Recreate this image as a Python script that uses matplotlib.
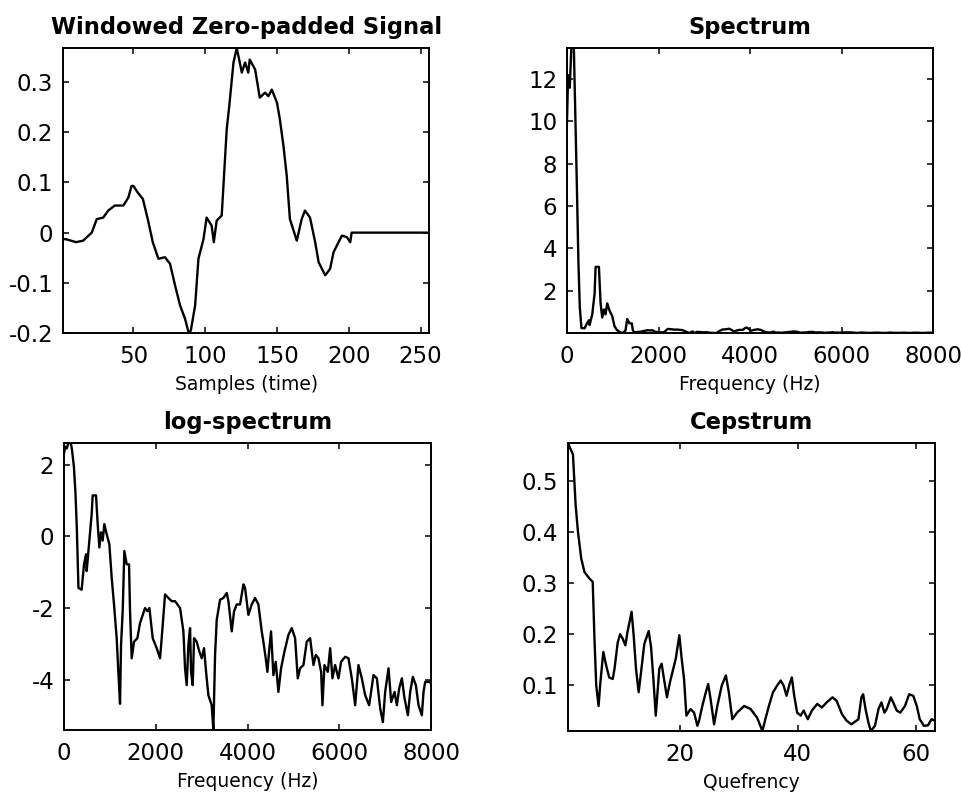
import numpy as np
import matplotlib.pyplot as plt

# ---- windowed, zero-padded frame (samples 1..256) ----
sig_n = [1, 3, 10, 15, 21, 24.5, 29, 32.5, 37, 43, 46.5, 48.7, 50, 53, 56.6,
         60, 63.5, 67.4, 72, 75.5, 79, 82.5, 86, 88.5, 90, 93, 95.3, 98.8, 101,
         104.5, 106, 108, 111.5, 112.7, 115, 117, 119.7, 122, 125.5, 127.8, 130,
         131, 134.8, 138, 141.7, 144, 146.4, 150, 152, 154.5, 156.8, 159, 163.8,
         167.2, 169.5, 173, 176.6, 179, 183.6, 187, 189.4, 192.9, 195.2, 198.7,
         201, 202, 256]
sig_v = [-0.013, -0.013, -0.019, -0.016, 0.0, 0.027, 0.030, 0.044, 0.054, 0.054,
         0.070, 0.093, 0.093, 0.080, 0.067, 0.027, -0.019, -0.052, -0.049, -0.062,
         -0.105, -0.145, -0.172, -0.200, -0.195, -0.145, -0.052, -0.013, 0.030,
         0.014, -0.019, 0.024, 0.034, 0.093, 0.206, 0.259, 0.339, 0.368, 0.319,
         0.339, 0.319, 0.345, 0.325, 0.269, 0.279, 0.272, 0.285, 0.259, 0.226,
         0.173, 0.113, 0.027, -0.016, 0.027, 0.044, 0.030, -0.019, -0.059, -0.085,
         -0.072, -0.039, -0.019, -0.006, -0.009, -0.019, 0.0, 0.0]

# ---- natural log magnitude spectrum, 0..8000 Hz ----
freq_hz = [0, 25, 60, 95, 150, 175, 215, 250, 280, 315, 385, 436, 480, 494, 552,
           603, 625, 698, 734, 770, 807, 843, 879, 930, 988, 1039, 1090, 1148,
           1184, 1221, 1243, 1279, 1315, 1366, 1417, 1439, 1475, 1526, 1599, 1657,
           1766, 1817, 1861, 1933, 2020, 2093, 2129, 2202, 2275, 2347, 2420, 2529,
           2602, 2638, 2674, 2711, 2747, 2769, 2805, 2834, 2892, 2951, 3001, 3052,
           3096, 3146, 3219, 3255, 3292, 3328, 3401, 3473, 3546, 3583, 3655, 3706,
           3764, 3837, 3910, 3946, 4018, 4091, 4164, 4236, 4309, 4345, 4396, 4432,
           4469, 4512, 4563, 4614, 4672, 4730, 4803, 4890, 4963, 5036, 5094, 5145,
           5218, 5290, 5363, 5436, 5487, 5545, 5603, 5632, 5676, 5749, 5800, 5850,
           5908, 5981, 6039, 6127, 6199, 6272, 6345, 6417, 6490, 6563, 6650, 6745,
           6818, 6890, 6949, 6999, 7072, 7130, 7203, 7254, 7305, 7363, 7421, 7494,
           7544, 7602, 7668, 7726, 7798, 7835, 7871, 7958, 8000]
log_spec = [2.30, 2.50, 2.45, 2.60, 2.60, 2.40, 1.95, 1.20, 0.20, -1.44, -1.49,
            -0.78, -0.50, -0.97, -0.12, 0.62, 1.14, 1.14, 0.34, -0.31, 0.11, -0.12,
            0.34, 0.06, -0.22, -1.15, -1.90, -2.84, -3.78, -4.67, -3.03, -2.09,
            -0.41, -0.78, -0.78, -2.09, -3.40, -2.94, -2.84, -2.42, -2.00, -2.09,
            -2.00, -2.84, -3.12, -3.40, -2.84, -1.62, -1.72, -1.81, -1.81, -2.00,
            -2.65, -3.68, -4.15, -3.03, -2.56, -3.78, -4.15, -2.84, -2.94, -3.22,
            -3.40, -3.12, -3.78, -4.43, -4.71, -5.40, -3.31, -2.33, -1.77, -1.72,
            -1.58, -1.81, -2.65, -2.09, -1.90, -1.90, -1.34, -1.44, -2.19, -1.90,
            -1.72, -1.90, -2.65, -2.94, -3.40, -3.78, -3.22, -2.65, -3.87, -3.50,
            -4.34, -3.68, -3.22, -2.75, -2.56, -2.84, -3.96, -3.68, -3.59, -2.94,
            -2.84, -3.59, -3.31, -3.40, -3.78, -4.71, -3.59, -3.78, -3.12, -3.96,
            -3.59, -3.96, -3.50, -3.36, -3.40, -3.96, -4.71, -3.59, -3.96, -4.43,
            -4.71, -3.87, -3.96, -4.80, -5.18, -4.34, -3.68, -4.62, -4.34, -4.71,
            -4.24, -3.96, -4.52, -4.99, -4.34, -3.92, -4.15, -4.71, -4.99, -4.34,
            -4.06, -4.06, -4.10]

# ---- real cepstrum, first 63 quefrency bins ----
quef = [1.0, 1.85, 2.3, 2.7, 3.25, 3.8, 4.66, 5.2, 5.5, 5.8, 6.2, 6.5, 7.0, 7.5,
        8.0, 8.6, 8.9, 9.45, 9.85, 10.3, 10.75, 11.1, 11.8, 12.15, 12.55, 13.0,
        13.4, 13.96, 14.7, 15.1, 15.5, 15.9, 16.5, 16.9, 17.3, 17.8, 18.3, 19.3,
        19.9, 20.3, 20.7, 21.1, 21.8, 22.4, 22.97, 23.25, 23.8, 24.4, 24.8, 25.2,
        25.8, 26.35, 27.1, 27.8, 28.3, 28.9, 29.7, 30.9, 32.0, 33.1, 34.0, 34.5,
        35.1, 35.8, 36.5, 37.1, 37.6, 38.1, 38.6, 39.0, 39.4, 39.9, 40.5, 41.0,
        41.7, 42.4, 43.3, 44.1, 44.9, 45.9, 46.6, 47.5, 48.3, 49.1, 50.3, 50.8,
        51.1, 51.5, 52.0, 52.4, 53.1, 53.7, 54.2, 54.7, 55.1, 55.8, 56.2, 56.8,
        57.4, 58.2, 58.9, 59.6, 60.2, 60.7, 61.4, 62.1, 62.7, 63.3]
ceps = [0.575, 0.553, 0.454, 0.401, 0.349, 0.322, 0.309, 0.303, 0.191, 0.099,
        0.059, 0.105, 0.165, 0.138, 0.115, 0.112, 0.132, 0.184, 0.200, 0.191,
        0.178, 0.204, 0.244, 0.198, 0.132, 0.086, 0.125, 0.181, 0.206, 0.175,
        0.112, 0.040, 0.132, 0.142, 0.112, 0.076, 0.105, 0.152, 0.198, 0.152,
        0.112, 0.040, 0.053, 0.046, 0.020, 0.030, 0.059, 0.086, 0.102, 0.073,
        0.023, 0.059, 0.099, 0.119, 0.086, 0.033, 0.046, 0.059, 0.053, 0.036,
        0.010, 0.033, 0.059, 0.086, 0.099, 0.109, 0.099, 0.079, 0.102, 0.115,
        0.079, 0.046, 0.040, 0.050, 0.033, 0.050, 0.063, 0.056, 0.066, 0.076,
        0.069, 0.043, 0.030, 0.023, 0.033, 0.076, 0.082, 0.053, 0.026, 0.010,
        0.020, 0.053, 0.066, 0.046, 0.053, 0.076, 0.066, 0.050, 0.046, 0.059,
        0.082, 0.079, 0.059, 0.033, 0.020, 0.021, 0.033, 0.030]

log_spec = np.array(log_spec)
spectrum = np.exp(log_spec)

plt.rcParams['font.family'] = 'DejaVu Sans'

fig = plt.figure(figsize=(9.61, 7.97), dpi=100)
ax1 = fig.add_axes([0.0656, 0.5822, 0.381, 0.3576])
ax2 = fig.add_axes([0.590, 0.5822, 0.381, 0.3576])
ax3 = fig.add_axes([0.0666, 0.0841, 0.382, 0.360])
ax4 = fig.add_axes([0.591, 0.0829, 0.382, 0.361])


def style(ax, x, y, title, xlabel):
    ax.plot(x, y, color='black', linewidth=1.7)
    ax.set_xlim(min(x), max(x))
    ax.set_ylim(min(y), max(y))
    ax.set_title(title, fontsize=16.3, fontweight='bold', pad=10)
    ax.set_xlabel(xlabel, fontsize=13.5, labelpad=5)
    ax.tick_params(direction='in', top=True, right=True, length=4, width=1.1,
                   labelsize=16.5)
    ax.tick_params(axis='x', pad=9)
    ax.tick_params(axis='y', pad=7)
    for sp in ax.spines.values():
        sp.set_linewidth(1.4)


style(ax1, sig_n, sig_v, 'Windowed Zero-padded Signal', 'Samples (time)')
ax1.set_xticks([50, 100, 150, 200, 250])
ax1.set_yticks([-0.2, -0.1, 0, 0.1, 0.2, 0.3])
ax1.set_yticklabels(['-0.2', '-0.1', '0', '0.1', '0.2', '0.3'])

style(ax2, freq_hz, spectrum, 'Spectrum', 'Frequency (Hz)')
ax2.set_xticks([0, 2000, 4000, 6000, 8000])
ax2.set_yticks([2, 4, 6, 8, 10, 12])

style(ax3, freq_hz, log_spec, 'log-spectrum', 'Frequency (Hz)')
ax3.set_xticks([0, 2000, 4000, 6000, 8000])
ax3.set_yticks([-4, -2, 0, 2])
ax3.set_yticklabels(['-4', '-2', '0', '2'])

style(ax4, quef, ceps, 'Cepstrum', 'Quefrency')
ax4.set_xticks([20, 40, 60])
ax4.set_yticks([0.1, 0.2, 0.3, 0.4, 0.5])

fig.savefig('out.png', dpi=100)
